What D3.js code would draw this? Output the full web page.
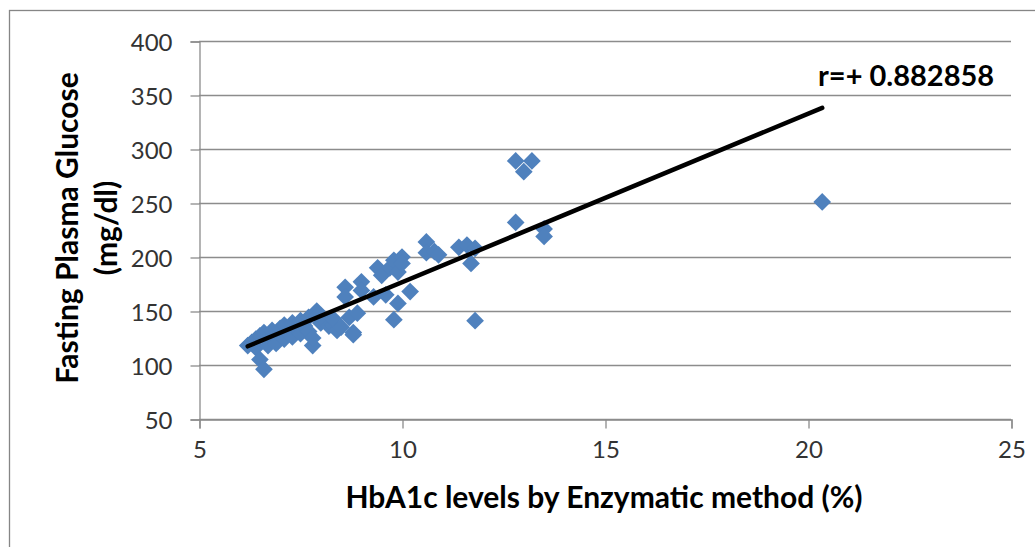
<!DOCTYPE html>
<html>
<head>
<meta charset="utf-8">
<script src="https://cdn.jsdelivr.net/npm/d3@7"></script>
<style>
  html, body { margin: 0; padding: 0; background: #fff; }
  svg { display: block; font-family: Lato, "Open Sans", sans-serif; }
</style>
</head>
<body>
<div id="chart"></div>
<script>
// HbA1c (%) vs fasting plasma glucose (mg/dl)
const hba1c = [
  6.2, 6.3, 6.4, 6.4, 6.5, 6.5, 6.6, 6.6, 6.7, 6.7, 6.8, 6.8, 6.9, 7.0, 7.0,
  7.1, 7.1, 7.2, 7.3, 7.3, 7.4, 7.5, 7.5, 7.6, 7.7, 7.7, 7.8, 7.8, 7.9, 7.9,
  8.0, 8.1, 8.2, 8.3, 8.4, 8.3, 8.5, 8.8, 8.7, 8.9, 8.8, 8.6, 8.6, 9.0, 9.0,
  9.3, 9.4, 9.5, 9.6, 9.7, 9.8, 9.9, 10.0, 10.0, 9.9, 10.2, 9.8, 10.6, 10.6,
  10.8, 10.9, 11.4, 11.6, 11.8, 11.7, 11.8, 12.8, 13.2, 13.0, 12.8, 13.5, 13.5,
  20.35
];
const glucose = [
  118, 121, 124, 116, 127, 105, 96, 130, 122, 118, 126, 132, 120, 128, 134,
  124, 137, 130, 126, 139, 133, 141, 129, 136, 144, 131, 118, 125, 150, 146,
  139, 141, 136, 137, 132, 143, 135, 130, 144, 148, 128, 172, 163, 177, 169,
  163, 190, 183, 165, 190, 197, 186, 200, 194, 157, 168, 142, 214, 204,
  205, 202, 209, 211, 208, 194, 141, 289, 289, 279, 232, 226, 219,
  251
];
const xTicks = [5, 10, 15, 20, 25];
const yTicks = [50, 100, 150, 200, 250, 300, 350, 400];
// linear trend line: y = a + b*x
const trendIntercept = 20.6;
const trendSlope = 15.6;
const rLabel = 'r=+ 0.882858';
const xTitle = 'HbA1c levels by Enzymatic method (%)';
const yTitle = ['Fasting Plasma Glucose', '(mg/dl)'];

const W = 1035, H = 547;
const plot = { left: 199, right: 1011, top: 41, bottom: 419 };

const svg = d3.select('#chart').append('svg')
  .attr('width', W).attr('height', H)
  .attr('viewBox', `0 0 ${W} ${H}`);

// outer chart border (right/bottom edges fall outside the frame)
svg.append('rect')
  .attr('x', 9.5).attr('y', 10.5)
  .attr('width', W).attr('height', H)
  .attr('fill', 'none').attr('stroke', '#868686').attr('stroke-width', 1.3);

const x = d3.scaleLinear().domain([5, 25]).range([plot.left, plot.right]);
const y = d3.scaleLinear().domain([50, 400]).range([plot.bottom, plot.top]);

// ── gridlines ─────────────────────────────────────────────
svg.append('g')
  .selectAll('line')
  .data(yTicks)
  .join('line')
  .attr('x1', plot.left).attr('x2', plot.right)
  .attr('y1', d => Math.round(y(d)) + 0.5)
  .attr('y2', d => Math.round(y(d)) + 0.5)
  .attr('stroke', '#8c8c8c').attr('stroke-width', 1.3);

// ── axes ──────────────────────────────────────────────────
const yAxis = svg.append('g')
  .attr('transform', `translate(${plot.left + 0.5},0.5)`)
  .call(d3.axisLeft(y).tickValues(yTicks).tickSize(9).tickPadding(18));
const xAxis = svg.append('g')
  .attr('transform', `translate(0.5,${plot.bottom + 0.5})`)
  .call(d3.axisBottom(x).tickValues(xTicks).tickSize(9).tickPadding(7));

[xAxis, yAxis].forEach(g => {
  g.select('.domain').attr('stroke', '#8c8c8c').attr('stroke-width', 1.3);
  g.selectAll('.tick line').attr('stroke', '#8c8c8c').attr('stroke-width', 1.3);
  g.selectAll('.tick text')
    .attr('fill', '#333')
    .style('font-family', 'Lato, sans-serif')
    .style('font-size', '24px');
});
yAxis.selectAll('.tick text').attr('dy', '0.36em');
xAxis.selectAll('.tick text').attr('dy', '0.95em');

// ── points (diamonds) ─────────────────────────────────────
const points = hba1c.map((v, i) => ({ x: v, y: glucose[i] }));
const diamond = d3.symbol().type(d3.symbolDiamond2).size(200);
svg.append('g')
  .selectAll('path')
  .data(points)
  .join('path')
  .attr('transform', d => `translate(${x(d.x)},${y(d.y)})`)
  .attr('d', diamond)
  .attr('fill', '#4f81bd');

// ── trend line ────────────────────────────────────────────
const xMin = d3.min(hba1c), xMax = d3.max(hba1c);
svg.append('line')
  .attr('x1', x(xMin)).attr('y1', y(trendIntercept + trendSlope * xMin))
  .attr('x2', x(xMax)).attr('y2', y(trendIntercept + trendSlope * xMax))
  .attr('stroke', '#000').attr('stroke-width', 4.5)
  .attr('stroke-linecap', 'round');

svg.append('text')
  .attr('x', 818).attr('y', 86)
  .attr('font-size', '29px').attr('font-weight', 'bold')
  .attr('fill', '#000')
  .text(rLabel);

// ── axis titles ───────────────────────────────────────────
svg.append('text')
  .attr('x', 604).attr('y', 508)
  .attr('text-anchor', 'middle')
  .attr('font-size', '30px').attr('font-weight', 'bold')
  .attr('fill', '#000')
  .text(xTitle);

svg.append('g')
  .selectAll('text')
  .data(yTitle)
  .join('text')
  .attr('transform', (d, i) => `translate(${78 + i * 39},228) rotate(-90)`)
  .attr('text-anchor', 'middle')
  .attr('font-size', '30px').attr('font-weight', 'bold')
  .attr('fill', '#000')
  .text(d => d);
</script>
</body>
</html>
